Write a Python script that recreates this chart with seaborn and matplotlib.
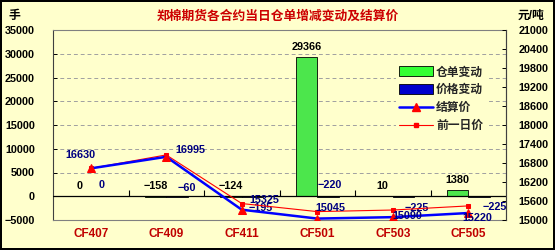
import numpy as np
import pandas as pd
import matplotlib
matplotlib.use("Agg")
import matplotlib.pyplot as plt
from matplotlib.patches import Patch
from matplotlib.lines import Line2D
import seaborn as sns

# ---- data ----
categories = ["CF407", "CF409", "CF411", "CF501", "CF503", "CF505"]
warehouse_change = [0, -158, -124, 29366, 10, 1380]
price_change = [0, -60, -195, -220, -225, -225]
settle_price = [16630, 16995, 15325, 15045, 15090, 15220]
prev_price = [16630, 17055, 15520, 15265, 15315, 15445]
left_ticks = [-5000, 0, 5000, 10000, 15000, 20000, 25000, 30000, 35000]
right_ticks = [15000, 15600, 16200, 16800, 17400, 18000, 18600, 19200, 19800, 20400, 21000]
series_names = ["仓单变动", "价格变动", "结算价", "前一日价"]
title = "郑棉期货各合约当日仓单增减变动及结算价"

# ---- styles ----
sns.set_theme(style="white")
FONT = ["Liberation Sans", "Noto Sans CJK SC", "DejaVu Sans"]
plt.rcParams["font.family"] = FONT
BG = "#FFFFCC"
GREEN = "#33FF33"
BLUE = "#0000FF"
NAVY = "#000080"
RED = "#FF0000"
DARKRED = "#C00000"

fig = plt.figure(figsize=(5.55, 2.5), dpi=100)
fig.patch.set_facecolor(BG)
fig.patch.set_edgecolor("black")
fig.patch.set_linewidth(1.5)

W, H = 555, 250
ax = fig.add_axes([53 / W, 1 - 220 / H, (506 - 53) / W, (220 - 30) / H])
ax.set_facecolor(BG)

bar_df = pd.DataFrame({
    "cat": categories * 2,
    "value": warehouse_change + price_change,
    "series": [series_names[0]] * 6 + [series_names[1]] * 6,
})
sns.barplot(data=bar_df, x="cat", y="value", hue="series", order=categories,
            hue_order=series_names[:2], palette=[GREEN, BLUE], width=0.57,
            edgecolor="black", linewidth=0.6, ax=ax, legend=False, zorder=3)

ax.set_xlim(-0.5, len(categories) - 0.5)
ax.set_ylim(left_ticks[0], left_ticks[-1])
ax.set_yticks(left_ticks)
ax.set_yticklabels([f"{t:d}".replace("-", "−") for t in left_ticks])
ax.set_xlabel("")
ax.set_ylabel("")
ax.yaxis.grid(True, linestyle=(0, (4, 3)), color="#A0A0A0", linewidth=0.7)
ax.xaxis.grid(False)
ax.set_axisbelow(True)
ax.tick_params(axis="y", direction="in", length=3, pad=13, labelsize=7.8,
               colors="black", width=0.7)
ax.tick_params(axis="x", length=0, pad=6, labelsize=8.5, labelcolor=DARKRED)
for lbl in ax.get_xticklabels() + ax.get_yticklabels():
    lbl.set_fontweight("bold")
for s in ax.spines.values():
    s.set_color("#808080")
    s.set_linewidth(0.8)
ax.spines["left"].set_color("#404040")

# zero line with category-boundary ticks
ax.axhline(0, color="black", linewidth=0.9, zorder=4)
zero_frac = (0 - left_ticks[0]) / (left_ticks[-1] - left_ticks[0])
sec = ax.secondary_xaxis(zero_frac)
sec.set_xticks(np.arange(len(categories) - 1) + 0.5)
sec.tick_params(direction="in", length=4, width=0.8, labelbottom=False,
                labeltop=False, colors="black")
sec.spines["bottom"].set_visible(False)
sec.spines["top"].set_visible(False)

# bar labels
bw = 0.57 / 2
for i, v in enumerate(warehouse_change):
    ax.annotate(f"{v}".replace("-", "−"), (i - bw / 2, max(v, 0)),
                xytext=(0, 10), textcoords="offset pixels", ha="center",
                va="center", fontsize=7.8, fontweight="bold", color="black",
                zorder=6)
pc_offsets = [(0, 11), (10, 8), (8, -12), (2, 11), (13, -12), (16, -11)]
for i, v in enumerate(price_change):
    ax.annotate(f"{v}".replace("-", "−"), (i + bw / 2, 0),
                xytext=pc_offsets[i], textcoords="offset pixels", ha="center",
                va="center", fontsize=7.8, fontweight="bold", color=NAVY,
                zorder=6, annotation_clip=False)

# secondary axis: prices
ax2 = ax.twinx()
ax2.patch.set_visible(False)
line_df = pd.DataFrame({"x": np.arange(len(categories)),
                        "settle": settle_price, "prev": prev_price})
sns.lineplot(data=line_df, x="x", y="prev", ax=ax2, color=RED, linewidth=0.8,
             marker="s", markersize=3, markeredgecolor=RED,
             markerfacecolor=RED, legend=False)
sns.lineplot(data=line_df, x="x", y="settle", ax=ax2, color=BLUE,
             linewidth=1.8, marker="^", markersize=6, markeredgecolor=RED,
             markerfacecolor=RED, legend=False)
ax2.set_ylim(right_ticks[0], right_ticks[-1])
ax2.set_yticks(right_ticks)
ax2.set_xlim(-0.5, len(categories) - 0.5)
ax2.set_xlabel("")
ax2.set_ylabel("")
ax2.tick_params(axis="y", direction="in", length=3, pad=9, labelsize=7.8,
                colors="black", width=0.7)
for lbl in ax2.get_yticklabels():
    lbl.set_fontweight("bold")
for s in ax2.spines.values():
    s.set_visible(False)
ax2.spines["right"].set_visible(True)
ax2.spines["right"].set_color("#404040")
ax2.spines["right"].set_linewidth(0.8)
ax2.grid(False)

st_offsets = [(-10, 13), (24, 7), (23, 10), (13, 11), (15, 1), (9, -5)]
for i, v in enumerate(settle_price):
    ax2.annotate(f"{v}", (i, v), xytext=st_offsets[i],
                 textcoords="offset pixels", ha="center", va="center",
                 fontsize=7.8, fontweight="bold", color=NAVY, zorder=6,
                 annotation_clip=False)

# legend
handles = [
    Patch(facecolor=GREEN, edgecolor="black", linewidth=0.6),
    Patch(facecolor="#0000CC", edgecolor="black", linewidth=0.6),
    Line2D([], [], color=BLUE, linewidth=1.8, marker="^", markersize=6,
           markerfacecolor=RED, markeredgecolor=RED),
    Line2D([], [], color=RED, linewidth=0.8, marker="s", markersize=3,
           markerfacecolor=RED, markeredgecolor=RED),
]
leg = ax2.legend(handles, series_names, loc="upper left",
                 bbox_to_anchor=(390 / W, 1 - 57 / H),
                 bbox_transform=fig.transFigure, frameon=True,
                 facecolor=BG, edgecolor="none", framealpha=1,
                 prop={"family": FONT, "size": 8.5, "weight": "bold"},
                 handlelength=2.8, handleheight=0.9, handletextpad=0.3,
                 labelspacing=0.5, borderpad=0.3)

# texts
fig.text(278 / W, 1 - 16 / H, title, ha="center", va="center", fontsize=9.2,
         fontweight="bold", color="#CC0000", family=FONT)
fig.text(14 / W, 1 - 16 / H, "手", ha="center", va="center", fontsize=8.5,
         fontweight="bold", color="black", family=FONT)
fig.text(531 / W, 1 - 16 / H, "元/吨", ha="center", va="center", fontsize=8.5,
         fontweight="bold", color="black", family=FONT)

fig.savefig("out.png", dpi=100, facecolor=BG, edgecolor="black")
